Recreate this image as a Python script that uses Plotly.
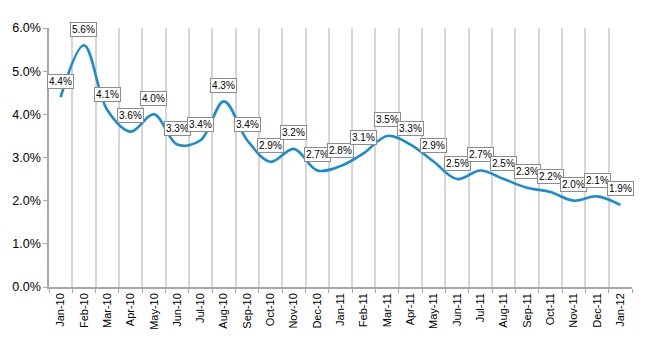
import plotly.graph_objects as go

months = ["Jan-10","Feb-10","Mar-10","Apr-10","May-10","Jun-10","Jul-10","Aug-10","Sep-10","Oct-10",
          "Nov-10","Dec-10","Jan-11","Feb-11","Mar-11","Apr-11","May-11","Jun-11","Jul-11","Aug-11",
          "Sep-11","Oct-11","Nov-11","Dec-11","Jan-12"]
values = [4.4,5.6,4.1,3.6,4.0,3.3,3.4,4.3,3.4,2.9,3.2,2.7,2.8,3.1,3.5,3.3,2.9,2.5,2.7,2.5,2.3,2.2,2.0,2.1,1.9]
y_ticks = [0,1,2,3,4,5,6]
y_tick_labels = ["0.0%","1.0%","2.0%","3.0%","4.0%","5.0%","6.0%"]

fig = go.Figure()
fig.add_trace(go.Scatter(x=months, y=values, mode="lines",
                         line=dict(color="#1a8bd3", width=2.6, shape="spline", smoothing=1.0),
                         hoverinfo="skip"))

for m, v in zip(months, values):
    fig.add_annotation(x=m, y=v, xref="x", yref="y", text=f"{v:.1f}%", showarrow=False,
                       yshift=16, bgcolor="white", bordercolor="#8c8c8c", borderwidth=1,
                       borderpad=1, font=dict(family="Liberation Sans, Arial", size=10, color="black"))

fig.update_layout(
    width=650, height=350, margin=dict(l=47, r=18, t=28, b=63),
    paper_bgcolor="white", plot_bgcolor="white", showlegend=False,
    font=dict(family="Liberation Sans, Arial", color="black"),
    xaxis=dict(type="category", tickson="boundaries", showgrid=True, gridcolor="#d6d6d6", gridwidth=2,
               ticks="outside", ticklen=4, tickcolor="#a8a8a8", tickangle=-90,
               showline=True, linecolor="#a8a8a8", linewidth=1.5,
               tickfont=dict(size=11), range=[-0.5, len(months)-0.5]),
    yaxis=dict(range=[0, 6], tickvals=y_ticks, ticktext=y_tick_labels, showgrid=False,
               showline=True, linecolor="#a8a8a8", linewidth=1.5, ticks="outside", ticklen=4,
               tickcolor="#a8a8a8", tickfont=dict(size=12.5), zeroline=False),
)

fig.write_html("out.html")
